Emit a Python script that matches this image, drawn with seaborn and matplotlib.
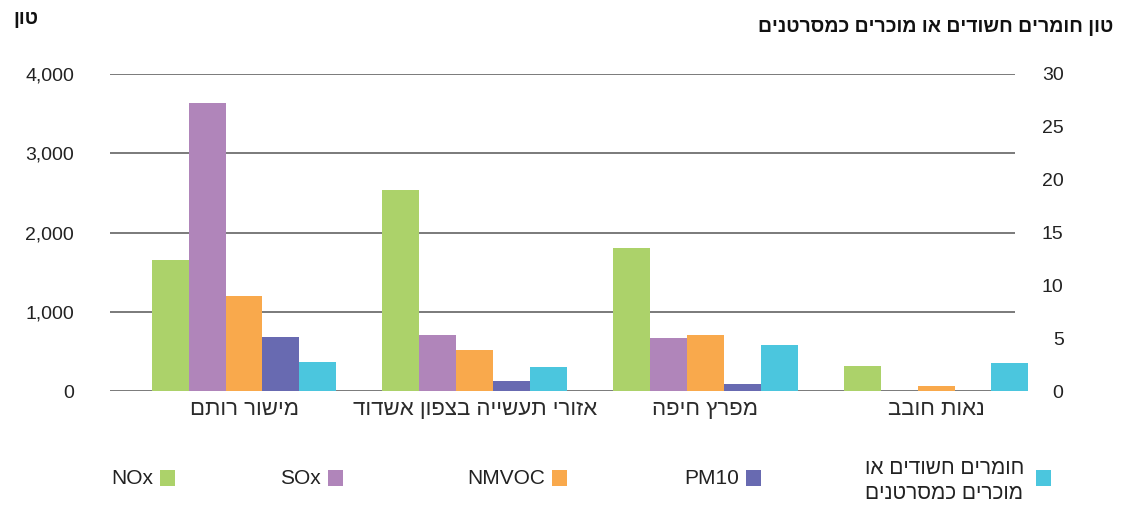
import numpy as np
import pandas as pd
import matplotlib
matplotlib.use('Agg')
import matplotlib.pyplot as plt
from matplotlib.patches import Rectangle
import seaborn as sns

# ---------------- data ----------------
regions = ['מישור רותם', 'אזורי תעשייה בצפון אשדוד', 'מפרץ חיפה', 'נאות חובב']
nox = [1650, 2530, 1810, 315]
sox = [3640, 710, 670, 0]
nmvoc = [1200, 520, 710, 60]
pm10 = [680, 120, 85, 0]
carcinogens = [2.72, 2.25, 4.34, 2.63]   # right axis (ton)
series_names = ['NOx', 'SOx', 'NMVOC', 'PM10', 'חומרים חשודים או מוכרים כמסרטנים']
left_ticks = [0, 1000, 2000, 3000, 4000]
right_ticks = [0, 5, 10, 15, 20, 25, 30]
left_title = 'טון'
right_title = 'טון חומרים חשודים או מוכרים כמסרטנים'
colors = ['#ACD26A', '#B085BA', '#F9A94C', '#686AB1', '#4BC6DE']


def rtl(s):
    return s[::-1]


sns.set_style('white')
plt.rcParams['font.family'] = ['Liberation Sans', 'DejaVu Sans']

left_rows = []
for name, vals in zip(series_names[:4], [nox, sox, nmvoc, pm10]):
    for r, v in zip(regions, vals):
        left_rows.append({'region': r, 'series': name, 'value': v})
left_df = pd.DataFrame(left_rows)
right_df = pd.DataFrame({'region': regions,
                         'series': [series_names[4]] * len(regions),
                         'value': carcinogens})
palette = dict(zip(series_names, colors))

fig = plt.figure(figsize=(11.22, 5.12), dpi=100)
W, H = 1122, 512
ax_left, ax_right, ax_bot, ax_top = 110, 1015, 391, 74
ax = fig.add_axes([ax_left / W, 1 - ax_bot / H, (ax_right - ax_left) / W, (ax_bot - ax_top) / H])

sns.barplot(data=left_df, x='region', y='value', hue='series', order=regions,
            hue_order=series_names, palette=palette, width=0.8, errorbar=None,
            legend=False, saturation=1, linewidth=0, dodge=True, ax=ax)
ax2 = ax.twinx()
sns.barplot(data=right_df, x='region', y='value', hue='series', order=regions,
            hue_order=series_names, palette=palette, width=0.8, errorbar=None,
            legend=False, saturation=1, linewidth=0, dodge=True, ax=ax2)

for p in list(ax.patches) + list(ax2.patches):
    p.set_clip_on(False)

# x layout: group centers approx at 246 + 230.7*i px
x0, dx = 244.0, 230.7
ax.set_xlim((ax_left - x0) / dx, (ax_right - x0) / dx)
ax.set_xticks(range(len(regions)))
ax.set_xticklabels([rtl(r) for r in regions], fontsize=16, color='#2b2b2b')
ax.tick_params(axis='x', length=0, pad=6)

ax.set_ylim(0, 4000)
ax.set_yticks(left_ticks)
ax.set_yticklabels([f'{v:,}' for v in left_ticks], fontsize=14, color='#222222')
ax.tick_params(axis='y', length=0, pad=26)
ax.yaxis.grid(True, color='#6f6f6f', linewidth=1.3)
ax.xaxis.grid(False)
ax.set_axisbelow(True)

ax2.set_ylim(0, 30)
ax2.set_yticks(right_ticks)
ax2.set_yticklabels([str(v) for v in right_ticks], fontsize=14, color='#222222',
                    ha='right')
ax2.tick_params(axis='y', length=0, pad=35)
ax2.grid(False)

for a in (ax, ax2):
    a.set_xlabel('')
    a.set_ylabel('')
    for s in a.spines.values():
        s.set_visible(False)

# titles
fig.text(26 / W, 1 - 20 / H, rtl(left_title), ha='center', va='center',
         fontsize=14, fontweight='bold', color='#111111')
fig.text(1113 / W, 1 - 27 / H, rtl(right_title), ha='right', va='center',
         fontsize=14, fontweight='bold', color='#111111')

# legend (RTL: label to the left of swatch)
marker_right = [175, 343, 567, 761, 1051]
leg_y = 478
sw_w, sw_h = 15, 16
for name, col, xr in zip(series_names, colors, marker_right):
    fig.patches.append(Rectangle(((xr - sw_w) / W, 1 - (leg_y + sw_h / 2) / H), sw_w / W, sw_h / H,
                                 transform=fig.transFigure, facecolor=col, edgecolor='none'))
    if name == series_names[4]:
        label = rtl('חומרים חשודים או') + '\n' + rtl('מוכרים כמסרטנים')
        fig.text((xr - sw_w - 12) / W, 1 - (leg_y - 19) / H, label, ha='right', va='top',
                 fontsize=15, color='#222222', linespacing=1.4, multialignment='left')
    else:
        fig.text((xr - sw_w - 7) / W, 1 - leg_y / H, name, ha='right', va='center',
                 fontsize=15, color='#222222')

fig.savefig('out.png', dpi=100)
